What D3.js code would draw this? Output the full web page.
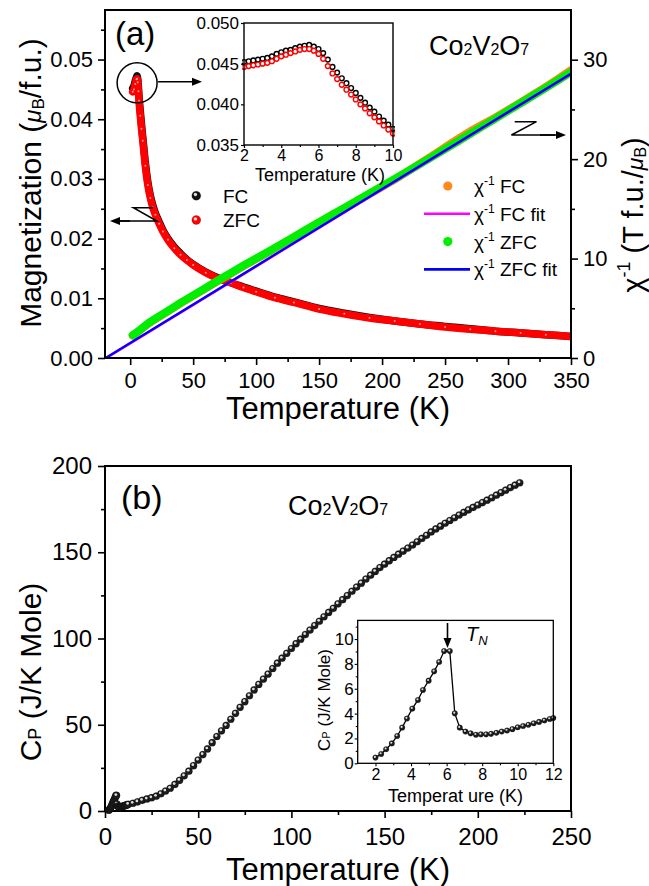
<!DOCTYPE html>
<html><head><meta charset="utf-8">
<script src="https://cdn.jsdelivr.net/npm/d3@7"></script>
<style>
body{margin:0;background:#fff;}
svg{display:block;}
</style></head><body>
<svg id="c" width="649" height="886"></svg>
<script>
// ---------------- DATA ----------------
// (a) magnetization vs T
const magT   = [2,3,4,5,5.5,6,6.5,7,8,9,10,12,14,16,18,20,23,26,30,35,40,45,50,60,70,80,90,100,115,130,150,170,190,210,230,250,270,290,310,330,350];
const magZFC = [0.0446,0.0450,0.0459,0.0467,0.0468,0.0462,0.0447,0.0431,0.0406,0.0384,0.0364,0.0322,0.0290,0.0268,0.0252,0.0240,0.0225,0.0212,0.0198,0.0184,0.0173,0.0164,0.0156,0.0143,0.0133,0.0126,0.0118,0.0111,0.0101,0.0093,0.0082,0.0074,0.0067,0.0062,0.0057,0.0052,0.0048,0.0045,0.0042,0.0039,0.0036];
const magFC  = [0.0452,0.0456,0.0464,0.0471,0.0473,0.0468,0.0455,0.0439,0.0414,0.0391,0.0370,0.0328,0.0295,0.0272,0.0256,0.0243,0.0228,0.0214,0.0200,0.0186,0.0175,0.0165,0.0157,0.0144,0.0134,0.0126,0.0119,0.0112,0.0102,0.0094,0.0083,0.0075,0.0068,0.0062,0.0057,0.0053,0.0049,0.0045,0.0042,0.0039,0.0036];
// inset of (a)
const insT   = [2,2.25,2.5,2.75,3,3.25,3.5,3.75,4,4.25,4.5,4.75,5,5.25,5.5,5.75,6,6.25,6.5,6.75,7,7.25,7.5,7.75,8,8.25,8.5,8.75,9,9.25,9.5,9.75,10];
const insZFC = [0.0446,0.0447,0.0448,0.0449,0.0450,0.0451,0.0453,0.0456,0.0459,0.0461,0.0463,0.0465,0.0467,0.0468,0.0468,0.0466,0.0462,0.0456,0.0447,0.0438,0.0431,0.0424,0.0418,0.0412,0.0406,0.0400,0.0395,0.0389,0.0384,0.0379,0.0374,0.0369,0.0364];
const insFC  = [0.0452,0.0453,0.0454,0.0455,0.0456,0.0457,0.0459,0.0462,0.0464,0.0466,0.0467,0.0469,0.0471,0.0472,0.0473,0.0471,0.0468,0.0463,0.0455,0.0446,0.0439,0.0432,0.0426,0.0420,0.0414,0.0408,0.0402,0.0396,0.0391,0.0385,0.0380,0.0375,0.0370];
// inverse susceptibility
const chiT   = [2,5,10,15,20,30,40,50,60,70,80,90,100,110,120,130,140,150,160,170,180,190,200,210,220,230,240,250,260,270,280,290,300,310,320,330,340,350];
const chiZFC = [2.30,2.55,3.05,3.55,3.95,4.75,5.55,6.30,7.05,7.82,8.55,9.30,10.00,10.72,11.45,12.18,12.92,13.65,14.38,15.10,15.82,16.55,17.28,18.00,18.75,19.50,20.25,21.02,21.78,22.55,23.32,24.08,24.86,25.62,26.40,27.17,27.96,28.75];
const chiFC  = [2.25,2.50,3.00,3.50,3.90,4.70,5.50,6.25,7.00,7.77,8.50,9.25,9.95,10.67,11.40,12.13,12.87,13.60,14.33,15.05,15.77,16.50,17.23,17.95,18.75,19.55,20.35,21.20,22.00,22.80,23.50,24.20,24.95,25.70,26.48,27.28,28.10,28.95];
const fitFCT  = [-19, 350];
const fitFC   = [0, 28.58];
const fitZFCT = [-19.5, 350];
const fitZFC  = [0, 28.6];
// (b) heat capacity
const cpLowT = [2.0,2.32,2.6,2.92,3.22,3.5,3.77,4.07,4.39,4.67,4.99,5.3,5.58,5.86,6.18,6.46,6.74,7.06,7.35,7.65,7.93,8.22,8.5,8.8,9.1,9.4,9.7,10.0,10.3,10.6,10.9,11.2,11.5,11.8,12.0];
const cpLow  = [0.46,0.75,1.13,1.6,2.2,2.87,3.6,4.4,5.1,5.9,6.65,7.4,8.15,9.03,9.03,4.02,2.87,2.55,2.41,2.3,2.33,2.33,2.37,2.45,2.55,2.64,2.75,2.9,3.0,3.1,3.22,3.33,3.45,3.57,3.65];
const cpHighT = [12.5,15,17.5,20,22.5,25,27.5,30,32.5,35,37.5,40,42.5,45,47.5,50,52.5,55,57.5,60,62.5,65,67.5,70,72.5,75,77.5,80,82.5,85,87.5,90,92.5,95,97.5,100,102.5,105,107.5,110,112.5,115,117.5,120,122.5,125,127.5,130,132.5,135,137.5,140,142.5,145,147.5,150,152.5,155,157.5,160,162.5,165,167.5,170,172.5,175,177.5,180,182.5,185,187.5,190,192.5,195,197.5,200,202.5,205,207.5,210,212.5,215,217.5,220,222.5];
const cpHigh  = [3.9,4.5,5.3,6.2,7.0,7.7,8.6,10.0,11.6,13.2,15.4,17.8,20.4,23.1,26.3,29.5,32.7,36.0,39.6,43.2,46.5,49.6,53.2,56.6,60.1,63.4,66.8,70.2,73.4,76.5,79.4,82.6,85.7,88.6,91.4,94.2,97.0,99.6,102.3,104.9,107.5,110.0,112.6,115.1,117.5,120.1,122.5,124.9,127.4,129.8,132.1,134.5,136.7,138.9,141.1,143.1,145.1,147.0,148.9,150.7,152.4,154.2,156.1,158.0,159.8,161.8,163.5,165.1,166.8,168.4,170.0,171.6,173.1,174.6,176.0,177.4,178.8,180.2,181.6,183.1,184.6,186.0,187.5,188.9,190.3];
// ticks
const magTicks = [0,0.01,0.02,0.03,0.04,0.05];
const magMinor = [0.005,0.015,0.025,0.035,0.045,0.055];
const tATicks = [0,50,100,150,200,250,300,350];
const tAMinor = [25,75,125,175,225,275,325];
const chiTicks = [0,10,20,30];
const chiMinor = [5,15,25];
const insYTicks = [0.035,0.040,0.045,0.050];
const insXTicks = [2,4,6,8,10];
const insXMinor = [3,5,7,9];
const cpTicks = [0,50,100,150,200];
const cpMinor = [25,75,125,175];
const tBTicks = [0,50,100,150,200,250];
const tBMinor = [25,75,125,175,225];
const cpInsYTicks = [0,2,4,6,8,10];
const cpInsYMinor = [1,3,5,7,9,11];
const cpInsXTicks = [2,4,6,8,10,12];
const cpInsXMinor = [3,5,7,9,11];

// ---------------- DRAW ----------------
const F = '"Liberation Sans", Arial, Helvetica, sans-serif';
const svg = d3.select('#c').attr('font-family', F);
svg.append('rect').attr('width',649).attr('height',886).attr('fill','#fff');
const defs = svg.append('defs');

function axisG(parent, gen, scale, major, minor, o) {
  const g = parent.append('g').attr('transform', o.t || null);
  if (minor) g.append('g').call(gen(scale).tickValues(minor).tickSize(o.mn).tickFormat(''));
  const m = g.append('g').call(gen(scale).tickValues(major).tickSize(o.mj).tickPadding(o.pad).tickFormat(o.fmt || ''));
  g.selectAll('.domain').remove();
  g.selectAll('line').attr('stroke','#000').attr('stroke-width', o.w || 1.6);
  m.selectAll('text').attr('font-size', o.fs).attr('font-family', F).attr('fill','#000');
  return g;
}
const zip = (a,b) => a.map((v,i)=>[v,b[i]]);

// ===== Panel (a) =====
const xA = d3.scaleLinear().domain([-20,350]).range([105,571]);
const yM = d3.scaleLinear().domain([0,0.0583]).range([358,10]);
const yC = d3.scaleLinear().domain([0,35]).range([358,10]);
defs.append('clipPath').attr('id','clipA').append('rect').attr('x',105).attr('y',10).attr('width',466).attr('height',348);
const pa = svg.append('g').attr('clip-path','url(#clipA)');

const lineM = d3.line().x(d=>xA(d[0])).y(d=>yM(d[1])).curve(d3.curveMonotoneX);
const lineC = d3.line().x(d=>xA(d[0])).y(d=>yC(d[1]));
pa.append('path').attr('d', lineM(zip(magT,magFC))).attr('fill','none').attr('stroke','#111').attr('stroke-width',7.5).attr('stroke-linecap','round').attr('stroke-linejoin','round');
pa.append('path').attr('d', lineM(zip(magT,magZFC))).attr('fill','none').attr('stroke','#ff0000').attr('stroke-width',7.5).attr('stroke-linecap','round').attr('stroke-linejoin','round');
pa.append('g').selectAll('circle').data(zip(magT,magZFC)).join('circle')
  .attr('cx',d=>xA(d[0])).attr('cy',d=>yM(d[1])).attr('r',1).attr('fill','#ff9a9a');
pa.append('path').attr('d', lineC(zip(chiT,chiFC))).attr('fill','none').attr('stroke','#ff8a1c').attr('stroke-width',8).attr('stroke-linecap','round').attr('stroke-linejoin','round');
pa.append('path').attr('d', lineC(zip(chiT,chiZFC))).attr('fill','none').attr('stroke','#00ee00').attr('stroke-width',8).attr('stroke-linecap','round').attr('stroke-linejoin','round');
pa.append('path').attr('d', lineC(zip(fitFCT,fitFC))).attr('fill','none').attr('stroke','#ff00ff').attr('stroke-width',2.5);
pa.append('path').attr('d', lineC(zip(fitZFCT,fitZFC))).attr('fill','none').attr('stroke','#0000ff').attr('stroke-width',2.2);

svg.append('rect').attr('x',105).attr('y',10).attr('width',466).attr('height',348).attr('fill','none').attr('stroke','#000').attr('stroke-width',2);
axisG(svg, d3.axisLeft, yM, magTicks, magMinor, {t:'translate(105,0)', mj:7, mn:4, pad:5, fs:22, fmt:d3.format('.2f')});
axisG(svg, d3.axisBottom, xA, tATicks, tAMinor, {t:'translate(0,358)', mj:7, mn:4, pad:7, fs:22, fmt:d3.format('d')});
axisG(svg, d3.axisRight, yC, chiTicks, chiMinor, {t:'translate(571,0)', mj:7, mn:4, pad:5, fs:22, fmt:d3.format('d')});

// titles (a)
svg.append('text').attr('x',338).attr('y',419).attr('text-anchor','middle').attr('font-size',31).text('Temperature (K)');
{
  const t = svg.append('text').attr('transform','translate(41,183) rotate(-90)').attr('text-anchor','middle').attr('font-size',30);
  t.append('tspan').text('Magnetization (');
  t.append('tspan').attr('font-style','italic').attr('font-size',24).text('μ');
  t.append('tspan').attr('font-size',17).attr('dy',3).text('B');
  t.append('tspan').attr('dy',-3).text('/f.u.)');
}
{
  const t = svg.append('text').attr('transform','translate(643,215) rotate(-90)').attr('text-anchor','middle').attr('font-size',29);
  t.append('tspan').text('χ');
  t.append('tspan').attr('font-size',18).attr('dy',-13).text('-1');
  t.append('tspan').attr('dy',13).text(' (T f.u./');
  t.append('tspan').attr('font-style','italic').attr('font-size',23).text('μ');
  t.append('tspan').attr('font-size',16).attr('dy',3).text('B');
  t.append('tspan').attr('dy',-3).text(')');
}
svg.append('text').attr('x',115).attr('y',45).attr('font-size',33).text('(a)');
function formula(x, y) {
  const t = svg.append('text').attr('x',x).attr('y',y).attr('font-size',27);
  t.append('tspan').text('Co'); t.append('tspan').attr('font-size',16).text('2');
  t.append('tspan').text('V'); t.append('tspan').attr('font-size',16).text('2');
  t.append('tspan').text('O'); t.append('tspan').attr('font-size',16).text('7');
}
formula(429,55);

// annotation circle & arrows
const cx = xA(5.5), cy = yM(0.0461);
svg.append('circle').attr('cx',cx).attr('cy',cy).attr('r',20).attr('fill','none').attr('stroke','#000').attr('stroke-width',1.5);
function arrowH(x1, x2, y) {
  const dir = Math.sign(x2-x1);
  svg.append('line').attr('x1',x1).attr('x2',x2-dir*8).attr('y1',y).attr('y2',y).attr('stroke','#000').attr('stroke-width',1.6);
  svg.append('path').attr('d',`M${x2},${y} L${x2-dir*10},${y-4} L${x2-dir*10},${y+4} Z`).attr('fill','#000');
}
arrowH(cx+21, 202, cy-1);
// left Z-arrow
svg.append('path').attr('d','M153.5,207.7 L133.4,207.7 L156.9,221 L118,221').attr('fill','none').attr('stroke','#000').attr('stroke-width',1.5);
arrowH(130, 110, 221);
// right Z-arrow
svg.append('path').attr('d','M514.7,121.7 L536.5,121.7 L511.4,135 L555,135').attr('fill','none').attr('stroke','#000').attr('stroke-width',1.5);
arrowH(540, 566, 135);

// legends (a)
function bead(g, x, y, r, fill) {
  g.append('circle').attr('cx',x).attr('cy',y).attr('r',r).attr('fill',fill).attr('stroke','#000').attr('stroke-opacity',0.3).attr('stroke-width',0.6);
  g.append('circle').attr('cx',x-r*0.2).attr('cy',y-r*0.25).attr('r',r*0.38).attr('fill','#fff').attr('fill-opacity',0.85);
}
bead(svg,196.3,195.7,4.5,'#111');
bead(svg,196.3,220,4.5,'#ff0000');
svg.append('text').attr('x',223).attr('y',202.7).attr('font-size',19).text('FC');
svg.append('text').attr('x',223).attr('y',226.7).attr('font-size',19).text('ZFC');
const legR = [
  {k:'dot', c:'#ff8a1c', t:' FC'},
  {k:'line', c:'#ff00ff', t:' FC fit'},
  {k:'dot', c:'#00ee00', t:' ZFC'},
  {k:'line', c:'#0000ff', t:' ZFC fit'}
];
legR.forEach((d,i)=>{
  const y = 186 + i*27.8;
  if (d.k==='dot') svg.append('circle').attr('cx',447.8).attr('cy',y).attr('r',4.6).attr('fill',d.c);
  else svg.append('line').attr('x1',424).attr('x2',470).attr('y1',y).attr('y2',y).attr('stroke',d.c).attr('stroke-width',2.6);
  const t = svg.append('text').attr('x',474).attr('y',y+7).attr('font-size',19);
  t.append('tspan').text('χ');
  t.append('tspan').attr('font-size',12).attr('dy',-8).text('-1');
  t.append('tspan').attr('dy',8).text(d.t);
});

// inset (a)
const xi = d3.scaleLinear().domain([2,10]).range([244,393]);
const yi = d3.scaleLinear().domain([0.035,0.050]).range([145,23]);
svg.append('rect').attr('x',244).attr('y',23).attr('width',149).attr('height',122).attr('fill','#fff');
defs.append('clipPath').attr('id','clipI').append('rect').attr('x',242).attr('y',21).attr('width',153).attr('height',126);
const gi = svg.append('g').attr('clip-path','url(#clipI)');
gi.append('g').selectAll('circle').data(zip(insT,insFC)).join('circle')
  .attr('cx',d=>xi(d[0])).attr('cy',d=>yi(d[1])).attr('r',2.4).attr('fill','#fff').attr('stroke','#000').attr('stroke-width',1.4);
gi.append('g').selectAll('circle').data(zip(insT,insZFC)).join('circle')
  .attr('cx',d=>xi(d[0])).attr('cy',d=>yi(d[1])).attr('r',2.4).attr('fill','#fff').attr('stroke','#ff0000').attr('stroke-width',1.4);
svg.append('rect').attr('x',244).attr('y',23).attr('width',149).attr('height',122).attr('fill','none').attr('stroke','#000').attr('stroke-width',1.4);
axisG(svg, d3.axisLeft, yi, insYTicks, null, {t:'translate(244,0)', mj:3, pad:2, fs:17, w:1.2, fmt:d3.format('.3f')});
axisG(svg, d3.axisBottom, xi, insXTicks, insXMinor, {t:'translate(0,145)', mj:3, mn:2, pad:2, fs:16, w:1.2, fmt:d3.format('d')});
svg.append('text').attr('x',320).attr('y',181).attr('text-anchor','middle').attr('font-size',18).text('Temperature (K)');

// ===== Panel (b) =====
const xB = d3.scaleLinear().domain([0,250]).range([105,571]);
const yB = d3.scaleLinear().domain([0,200]).range([811,466]);
svg.append('rect').attr('x',105).attr('y',466).attr('width',466).attr('height',345).attr('fill','none').attr('stroke','#000').attr('stroke-width',2);
axisG(svg, d3.axisLeft, yB, cpTicks, cpMinor, {t:'translate(105,0)', mj:7, mn:4, pad:6, fs:24, fmt:d3.format('d')});
axisG(svg, d3.axisBottom, xB, tBTicks, tBMinor, {t:'translate(0,811)', mj:7, mn:4, pad:10, fs:24, fmt:d3.format('d')});

const cpAll = zip(cpLowT,cpLow).concat(zip(cpHighT,cpHigh));
const gb = svg.append('g');
cpAll.forEach(d=>bead(gb, xB(d[0]), yB(d[1]), 3.6, '#1c1c1c'));

svg.append('text').attr('x',338).attr('y',880).attr('text-anchor','middle').attr('font-size',31).text('Temperature (K)');
{
  const t = svg.append('text').attr('transform','translate(41,672) rotate(-90)').attr('text-anchor','middle').attr('font-size',30);
  t.append('tspan').text('C');
  t.append('tspan').attr('font-size',18).text('P');
  t.append('tspan').text(' (J/K Mole)');
}
svg.append('text').attr('x',121).attr('y',509).attr('font-size',34).text('(b)');
formula(288,515);

// inset (b)
const xj = d3.scaleLinear().domain([1,12]).range([357.7,553.3]);
const yj = d3.scaleLinear().domain([0,11.5]).range([763.3,620.4]);
svg.append('rect').attr('x',357.7).attr('y',620.4).attr('width',195.6).attr('height',142.9).attr('fill','#fff');
const lineJ = d3.line().x(d=>xj(d[0])).y(d=>yj(d[1]));
const gj = svg.append('g');
gj.append('path').attr('d', lineJ(zip(cpLowT,cpLow))).attr('fill','none').attr('stroke','#000').attr('stroke-width',1.3);
zip(cpLowT,cpLow).forEach(d=>bead(gj, xj(d[0]), yj(d[1]), 2.8, '#1c1c1c'));
svg.append('rect').attr('x',357.7).attr('y',620.4).attr('width',195.6).attr('height',142.9).attr('fill','none').attr('stroke','#000').attr('stroke-width',1.3);
axisG(svg, d3.axisLeft, yj, cpInsYTicks, cpInsYMinor, {t:'translate(357.7,0)', mj:3, mn:2, pad:1, fs:17, w:1.1, fmt:d3.format('d')});
axisG(svg, d3.axisBottom, xj, cpInsXTicks, cpInsXMinor, {t:'translate(0,763.3)', mj:3, mn:2, pad:2, fs:16, w:1.1, fmt:d3.format('d')});
svg.append('text').attr('x',455.5).attr('y',802).attr('text-anchor','middle').attr('font-size',18).text('Temperat ure (K)');
{
  const t = svg.append('text').attr('transform','translate(330,700) rotate(-90)').attr('text-anchor','middle').attr('font-size',17);
  t.append('tspan').text('C');
  t.append('tspan').attr('font-size',11).text('P');
  t.append('tspan').text(' (J/K Mole)');
}
// T_N arrow
{
  const ax = xj(6.05);
  svg.append('line').attr('x1',ax).attr('x2',ax).attr('y1',623).attr('y2',640).attr('stroke','#000').attr('stroke-width',1.6);
  svg.append('path').attr('d',`M${ax},648 L${ax-4},638 L${ax+4},638 Z`).attr('fill','#000');
  const t = svg.append('text').attr('x',466).attr('y',641).attr('font-size',20).attr('font-style','italic');
  t.append('tspan').text('T');
  t.append('tspan').attr('font-size',13).attr('dy',4).text('N');
}
</script></body></html>
